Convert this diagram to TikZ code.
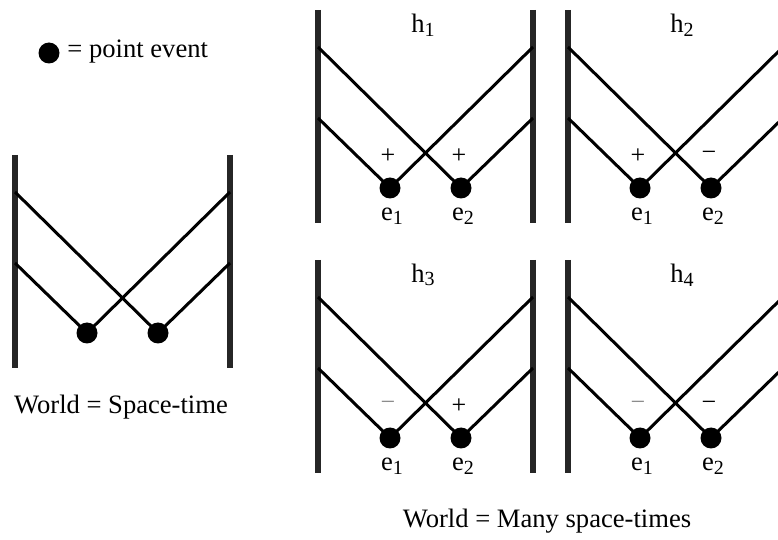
\documentclass[tikz,border=0pt]{standalone}
\usepackage{fontspec}
\setmainfont{Liberation Serif}
\usetikzlibrary{positioning}
\newcommand\lowidx[1]{\raisebox{-0.3ex}{\fontsize{10}{10}\selectfont#1}}

\begin{document}
\begin{tikzpicture}[x=0.5pt,y=-0.5pt,
  wall/.style={line width=2.6pt,draw=black!85},
  ray/.style={line width=1.5pt},
  event/.style={circle,fill,inner sep=0pt,minimum size=10.5pt},
  lbl/.style={font=\fontsize{13.3}{15}\selectfont,inner sep=1pt},
  sgn/.style={font=\fontsize{13}{15}\selectfont,inner sep=0pt},
]
\clip (0,0) rectangle (778,540);

% legend
\node[event] (key) at (49,53) {};
\node[lbl,anchor=west] (keytxt) at (65,52) {= point event};

% one space-time per panel: walls, two events, their light rays
\foreach \n/\px/\py in {w/15/155, h1/318/10, h2/568/10, h3/318/260, h4/568/260}{
  \begin{scope}[shift={(\px,\py)}]
    \draw[wall] (0,0) -- (0,213);
    \draw[wall] (215,0) -- (215,213);
    \coordinate (\n-ul) at (0,37);
    \coordinate (\n-ll) at (0,108);
    \coordinate (\n-ur) at (215,37);
    \coordinate (\n-lr) at (215,108);
    \node[event] (\n-e1) at (72,178) {};
    \node[event] (\n-e2) at (143,178) {};
    \draw[ray] (\n-ul) -- (\n-e2.center) -- (\n-lr);
    \draw[ray] (\n-ll) -- (\n-e1.center) -- (\n-ur);
  \end{scope}
}

% history labels and signs
\foreach \n/\k/\tx/\sa/\ca/\sb/\cb in {h1/1/52.5/+/black/+/black,
    h2/2/57/+/black/−/black, h3/3/52.5/−/black!45/+/black,
    h4/4/57/−/black!45/−/black}{
  \node[lbl] (\n-tag) at ([xshift=\tx pt,yshift=11pt]\n-ul) {h\lowidx{\k}};
  \node[sgn,text=\ca] (\n-s1) at ([xshift=-1pt,yshift=16pt]\n-e1.center) {\sa};
  \node[sgn,text=\cb] (\n-s2) at ([xshift=-1pt,yshift=16pt]\n-e2.center) {\sb};
  \node[lbl] (\n-l1) at ([xshift=1pt,yshift=-14pt]\n-e1.center) {e\lowidx{1}};
  \node[lbl] (\n-l2) at ([xshift=1pt,yshift=-14pt]\n-e2.center) {e\lowidx{2}};
}

\node[lbl] (single) at (121,407) {World = Space-time};
\node[lbl] (many) at (547,521) {World = Many space-times};
\end{tikzpicture}
\end{document}
